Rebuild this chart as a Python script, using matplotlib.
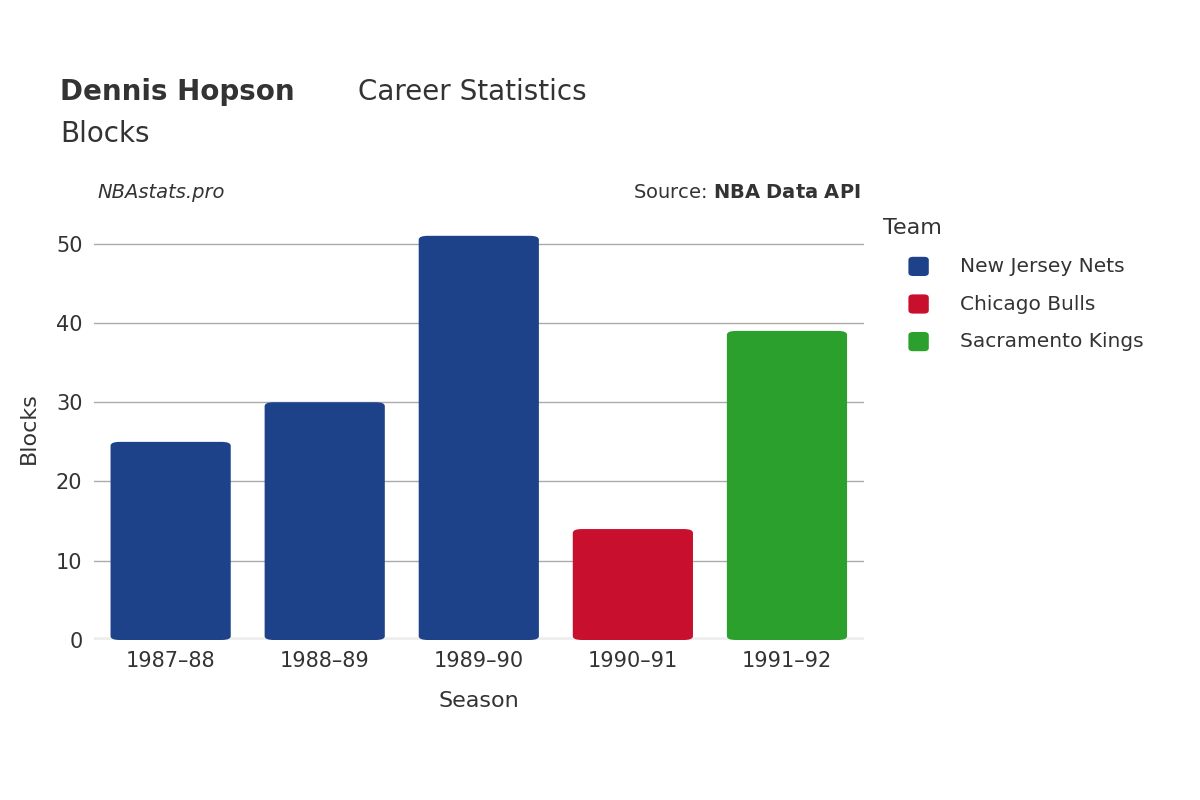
import matplotlib
matplotlib.use("Agg")
import matplotlib.pyplot as plt
from matplotlib.patches import FancyBboxPatch

seasons = ["1987–88", "1988–89", "1989–90", "1990–91", "1991–92"]
blocks = [25, 30, 51, 14, 39]
teams = ["New Jersey Nets", "New Jersey Nets", "New Jersey Nets", "Chicago Bulls", "Sacramento Kings"]
team_names = ["New Jersey Nets", "Chicago Bulls", "Sacramento Kings"]
team_colors = {"New Jersey Nets": "#1d428a", "Chicago Bulls": "#c8102e", "Sacramento Kings": "#2ca02c"}
yticks = [0, 10, 20, 30, 40, 50]

plt.rcParams['font.family'] = ['DejaVu Sans']
fig = plt.figure(figsize=(12, 8), dpi=100)
ax = fig.add_axes([0.078, 0.2, 0.642, 0.53])
x = list(range(len(seasons)))
for i, (v, t) in enumerate(zip(blocks, teams)):
    p = FancyBboxPatch((i - 0.39, 0), 0.78, v, boxstyle="round,pad=0,rounding_size=0.06",
                       mutation_aspect=8, facecolor=team_colors[t], edgecolor='none', zorder=3)
    ax.add_patch(p)
ax.set_xlim(-0.5, 4.5)
ax.set_ylim(0, 53.5)
ax.set_yticks(yticks)
ax.set_xticks(x)
ax.set_xticklabels(seasons)
ax.tick_params(axis='both', length=0, labelsize=15, colors='#333333', pad=8)
ax.grid(axis='y', color='#aaaaaa', linewidth=1, zorder=0)
for s in ax.spines.values():
    s.set_visible(False)
ax.axhline(0, color='#eeeeee', linewidth=4, zorder=2)
ax.set_xlabel("Season", fontsize=16, color='#333333', labelpad=14)
ax.set_ylabel("Blocks", fontsize=16, color='#333333', labelpad=12)

fig.text(0.05, 0.875, "Dennis Hopson", fontsize=20, fontweight='bold', color='#333333')
fig.text(0.298, 0.875, "Career Statistics", fontsize=20, color='#333333')
fig.text(0.05, 0.822, "Blocks", fontsize=20, color='#333333')
fig.text(0.081, 0.752, "NBAstats.pro", fontsize=14, style='italic', color='#333333')
fig.text(0.717, 0.752, "Source: $\\bf{NBA\\ Data\\ API}$", fontsize=14, color='#333333', ha='right')

fig.text(0.736, 0.708, "Team", fontsize=16, color='#333333')
for k, name in enumerate(team_names):
    y = 0.667 - k * 0.047
    fig.patches.append(FancyBboxPatch((0.757, y - 0.012), 0.017, 0.024, boxstyle="round,pad=0,rounding_size=0.004",
                                      transform=fig.transFigure, facecolor=team_colors[name], edgecolor='none'))
    fig.text(0.8, y, name, fontsize=14.5, color='#333333', va='center')

fig.savefig("out.png")
